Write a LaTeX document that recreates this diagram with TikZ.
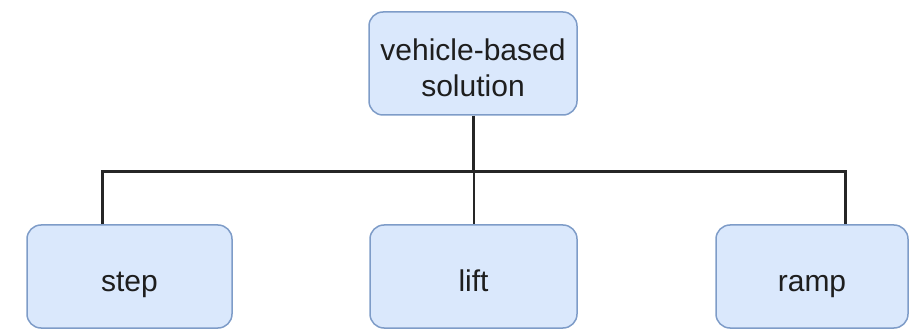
\documentclass[tikz,border=0pt]{standalone}
\usepackage{fontspec}
\setmainfont{Liberation Sans}
\usepackage{tikz}
\usetikzlibrary{calc, positioning}

\definecolor{boxfill}{HTML}{DAE8FC}
\definecolor{boxline}{HTML}{7E9CC8}
\definecolor{txt}{HTML}{1E1E1E}

\tikzset{
  optbox/.style={draw=boxline, line width=1.5pt, fill=boxfill, rounded corners=14pt,
    minimum height=103pt, inner sep=0pt, align=center, text=txt,
    font=\fontsize{30}{36}\selectfont},
  leafbox/.style={optbox, text height=30pt, text depth=0pt},
  bus/.style={line width=3pt, draw=black!85},
  tap/.style={line width=2pt, draw=black!85}
}

\begin{document}
\begin{tikzpicture}[x=1pt, y=-1pt]
  \useasboundingbox (0,0) rectangle (910,331);
  % ---- racine ----
  \node[optbox, minimum width=208pt, text height=66pt] (root) at (473,63.5) {vehicle-based\\solution};
  % ---- variantes ----
  \node[leafbox, minimum width=205pt] (step) at (129.5,276.5) {step};
  \node[leafbox, minimum width=207pt] (lift) at (473.5,276.5) {lift};
  \node[leafbox, minimum width=192pt] (ramp) at (812,276.5) {ramp};

  % Barre horizontale
  \coordinate (busL) at (102,172);
  \coordinate (busR) at (845,172);
  \draw[bus] (busL |- step.north) -- (busL) -- (busR) -- (busR |- ramp.north);
  \draw[bus] (root.south) -- (root.south |- busL);
  \draw[tap] (lift.north) -- (lift.north |- busL);
\end{tikzpicture}
\end{document}
